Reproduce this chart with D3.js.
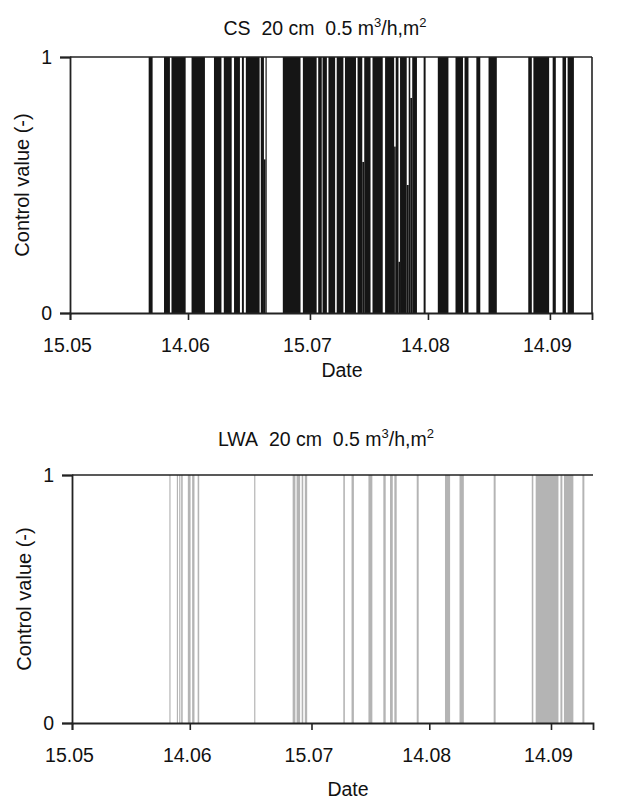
<!DOCTYPE html>
<html>
<head>
<meta charset="utf-8">
<script src="https://cdn.jsdelivr.net/npm/d3@7"></script>
<style>
html,body{margin:0;padding:0;background:#fff;}
svg{display:block;}
text{font-family:"Liberation Sans",Arial,Helvetica,sans-serif;fill:#111;}
</style>
</head>
<body>
<svg id="chart" width="623" height="802"></svg>
<script>
// X axis: days after 15 May
const tickDays = [0, 30, 61, 91, 122];
const tickLabels = ["15.05", "14.06", "15.07", "14.08", "14.09"];
const dayDomain = [0, 132.7];
const yTicks = [0, 1];

// CS panel: [start day, end day, control value]
const csBars = [
  [20.0, 21.0, 1], [23.9, 25.4, 1], [25.8, 29.4, 1], [30.9, 34.3, 1],
  [36.6, 38.5, 1], [39.1, 41.1, 1], [41.7, 43.2, 1], [43.7, 44.2, 1],
  [44.7, 48.2, 1], [48.5, 49.3, 1], [49.3, 49.7, 0.6], [49.7, 50.0, 1],
  [54.1, 58.6, 1], [59.2, 62.7, 1], [63.1, 64.0, 1], [64.2, 65.3, 1],
  [65.7, 67.4, 1], [67.8, 69.5, 1], [69.9, 72.7, 1],
  [73.1, 74.3, 1], [74.3, 74.8, 0.59], [74.8, 76.4, 1],
  [76.9, 79.5, 1],
  [80.1, 82.4, 1], [82.4, 82.8, 0.65], [82.8, 83.5, 1], [83.5, 83.9, 0.2],
  [83.9, 85.6, 1], [85.6, 86.1, 0.5], [86.1, 86.5, 1], [86.5, 87.0, 0.84],
  [87.0, 88.2, 1],
  [89.9, 90.4, 1], [93.5, 96.2, 1], [98.0, 99.9, 1], [100.3, 101.3, 1],
  [103.3, 104.3, 1], [106.4, 108.5, 1], [116.5, 117.4, 1], [117.8, 121.8, 1],
  [122.7, 123.5, 1], [125.2, 126.1, 1], [126.5, 128.1, 1]
];

// LWA panel: [start day, end day, control value]
const lwaBars = [
  [24.8, 25.1, 1], [26.7, 27.0, 1], [27.3, 27.6, 1], [27.8, 28.2, 1],
  [29.5, 30.2, 1], [30.6, 31.2, 1], [32.0, 32.4, 1], [46.4, 46.7, 1],
  [56.2, 56.9, 1], [57.2, 58.1, 1], [58.5, 58.9, 1], [59.3, 59.9, 1],
  [69.1, 69.5, 1], [71.2, 71.8, 1], [75.5, 76.5, 1], [79.3, 79.9, 1],
  [81.0, 81.7, 1], [82.1, 82.7, 1], [87.8, 88.3, 1], [95.0, 96.3, 1],
  [98.7, 99.8, 1], [107.4, 107.9, 1], [117.1, 117.5, 1], [118.1, 123.9, 1],
  [124.4, 124.9, 1], [125.3, 127.7, 1], [130.0, 130.5, 1]
];

const svg = d3.select("#chart");
const FS = 19.5;

function panel(cfg) {
  const g = svg.append("g");
  const x = d3.scaleLinear().domain(dayDomain).range([cfg.left, cfg.right]);
  const y = d3.scaleLinear().domain([0, 1]).range([cfg.bottom, cfg.top]);

  // bars
  g.append("g").selectAll("rect").data(cfg.data).join("rect")
    .attr("x", d => x(d[0]))
    .attr("width", d => x(d[1]) - x(d[0]))
    .attr("y", d => y(d[2]))
    .attr("height", d => y(0) - y(d[2]))
    .attr("fill", cfg.color);

  // frame
  g.append("line").attr("x1", cfg.left).attr("x2", cfg.right)
    .attr("y1", cfg.top).attr("y2", cfg.top)
    .attr("stroke", "#222").attr("stroke-width", 1.6);
  if (cfg.rightBorder) {
    g.append("line").attr("x1", cfg.right).attr("x2", cfg.right)
      .attr("y1", cfg.top).attr("y2", cfg.bottom)
      .attr("stroke", "#222").attr("stroke-width", 1.6);
  }

  // x axis
  const xAxis = d3.axisBottom(x).tickValues(tickDays)
    .tickFormat((d, i) => tickLabels[i]).tickSizeOuter(0).tickSize(7).tickPadding(18);
  const gx = g.append("g").attr("transform", `translate(0,${cfg.bottom})`).call(xAxis);
  gx.select(".domain").attr("stroke", "#222").attr("stroke-width", 1.8);
  gx.selectAll(".tick line").attr("stroke", "#222").attr("stroke-width", 1.6);
  gx.selectAll(".tick text").attr("font-size", FS).attr("dx", -3)
    .style("font-family", "'Liberation Sans', Arial, sans-serif").attr("fill", "#111");

  // y axis
  const yAxis = d3.axisLeft(y).tickValues(yTicks).tickFormat(d3.format("d"))
    .tickSizeOuter(0).tickSize(10).tickPadding(8);
  const gy = g.append("g").attr("transform", `translate(${cfg.left},0)`).call(yAxis);
  gy.select(".domain").attr("stroke", "#222").attr("stroke-width", 1.8);
  gy.selectAll(".tick line").attr("stroke", "#222").attr("stroke-width", 1.6);
  gy.selectAll(".tick text").attr("font-size", FS)
    .style("font-family", "'Liberation Sans', Arial, sans-serif").attr("fill", "#111");

  // axis titles
  g.append("text").attr("x", cfg.dateX).attr("y", cfg.dateY)
    .attr("text-anchor", "middle").attr("font-size", FS).text("Date");
  g.append("text")
    .attr("transform", `translate(${cfg.ylabX},${(cfg.top + cfg.bottom) / 2}) rotate(-90)`)
    .attr("text-anchor", "middle").attr("font-size", 20).text("Control value (-)");

  // title with superscripts
  const t = g.append("text").attr("x", cfg.titleX).attr("y", cfg.titleY)
    .attr("text-anchor", "middle").attr("font-size", FS);
  t.append("tspan").text(cfg.name + "\u00a0\u00a020 cm\u00a0\u00a00.5 m");
  t.append("tspan").attr("dy", -8).attr("font-size", 13).text("3");
  t.append("tspan").attr("dy", 8).text("/h,m");
  t.append("tspan").attr("dy", -8).attr("font-size", 13).text("2");
}

panel({name: "CS", data: csBars, color: "#151515", left: 70, right: 592, top: 57, bottom: 313,
  rightBorder: true, dateX: 342, dateY: 377, ylabX: 29, titleX: 325, titleY: 35});
panel({name: "LWA", data: lwaBars, color: "#b4b4b4", left: 72, right: 593, top: 475, bottom: 723,
  rightBorder: false, dateX: 348, dateY: 796, ylabX: 31, titleX: 326, titleY: 446});
</script>
</body>
</html>
